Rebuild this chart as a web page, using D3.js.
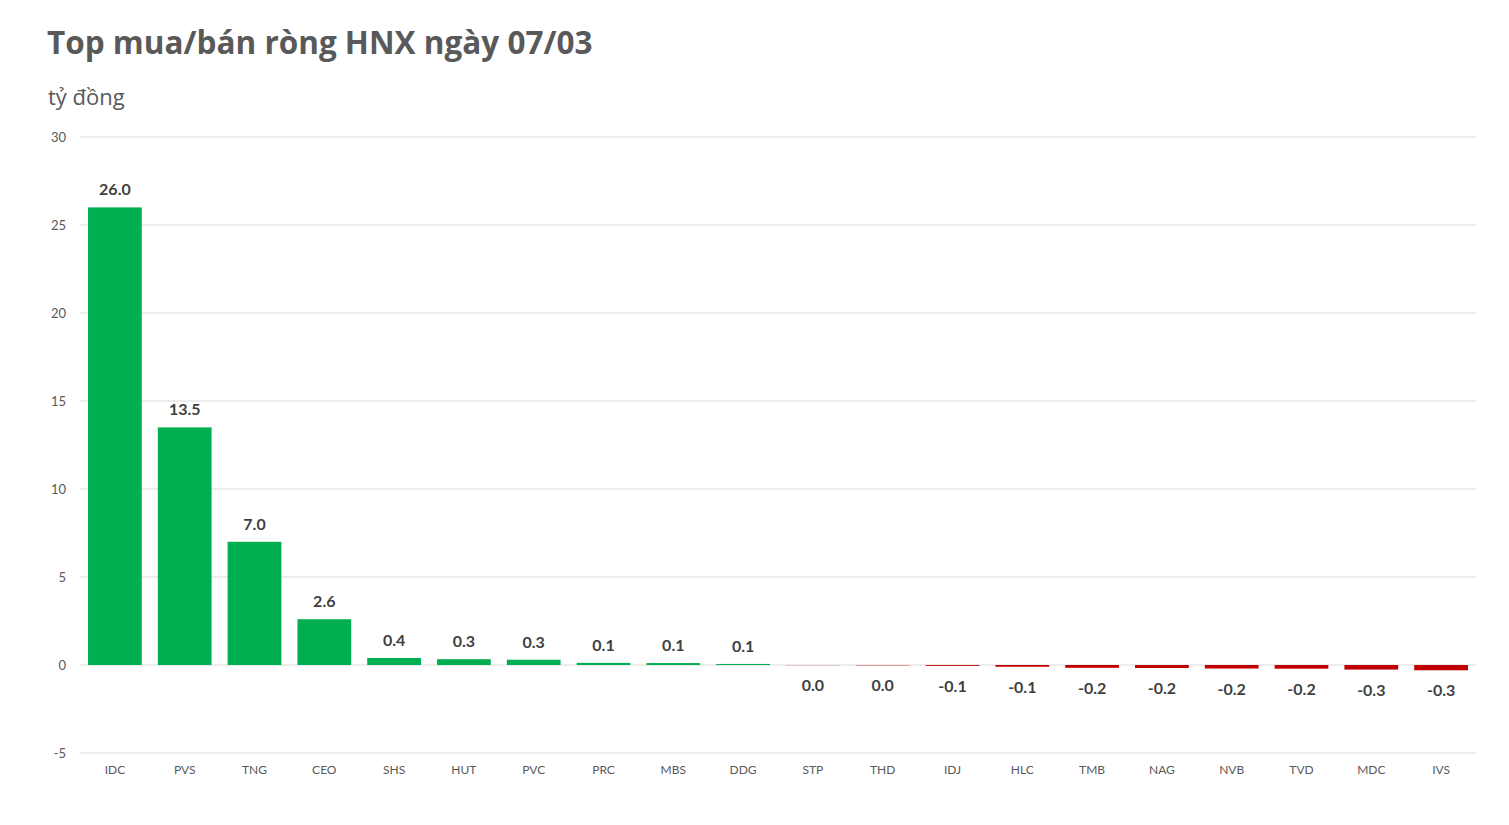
<!DOCTYPE html>
<html>
<head>
<meta charset="utf-8">
<script src="https://cdn.jsdelivr.net/npm/d3@7"></script>
<style>
  body { margin: 0; background: #fff; }
  text { font-family: Lato, "Open Sans", sans-serif; }
</style>
</head>
<body>
<div id="root"></div>
<script>
// Size of the chart
const width = 1509;
const height = 825;
const margin = { top: 137, right: 33, bottom: 72, left: 80 };

// Data
const tickers = ["IDC", "PVS", "TNG", "CEO", "SHS", "HUT", "PVC", "PRC", "MBS", "DDG",
  "STP", "THD", "IDJ", "HLC", "TMB", "NAG", "NVB", "TVD", "MDC", "IVS"];
const values = [26.0, 13.5, 7.0, 2.6, 0.4, 0.33, 0.3, 0.12, 0.11, 0.06,
  -0.01, -0.02, -0.05, -0.1, -0.16, -0.17, -0.2, -0.21, -0.26, -0.3];
const yTicks = [-5, 0, 5, 10, 15, 20, 25, 30];

const data = tickers.map((t, i) => ({ ticker: t, value: values[i] }));

// one decimal, no "-0.0"
const fmt = v => {
  const s = d3.format(".1f")(v).replace("−", "-");
  return s === "-0.0" ? "0.0" : s;
};

const svg = d3
  .select("#root")
  .append("svg")
  .attr("width", width)
  .attr("height", height);

// Title and unit
svg.append("text")
  .attr("x", 47)
  .attr("y", 54)
  .style("font-family", "'Open Sans', sans-serif")
  .style("font-size", "31.5px")
  .style("font-weight", "bold")
  .attr("fill", "#595959")
  .text("Top mua/bán ròng HNX ngày 07/03");

svg.append("text")
  .attr("x", 48)
  .attr("y", 105)
  .style("font-family", "'Open Sans', sans-serif")
  .style("font-size", "22px")
  .attr("fill", "#595959")
  .text("tỷ đồng");

// Scales
const xScale = d3
  .scaleBand()
  .domain(tickers)
  .range([margin.left, width - margin.right])
  .paddingInner(0.23)
  .paddingOuter(0.115);

const yScale = d3
  .scaleLinear()
  .domain([-5, 30])
  .range([height - margin.bottom, margin.top]);

// Gridlines
svg.append("g")
  .selectAll("line")
  .data(yTicks)
  .enter()
  .append("line")
  .attr("x1", margin.left)
  .attr("x2", width - margin.right)
  .attr("y1", d => yScale(d))
  .attr("y2", d => yScale(d))
  .attr("stroke", "#d9d9d9")
  .attr("stroke-width", 1);

// Y axis
const yAxis = d3.axisLeft(yScale).tickValues(yTicks).tickSize(0).tickPadding(14)
  .tickFormat(d => String(d));
svg.append("g")
  .attr("class", "y-axis")
  .attr("transform", "translate(" + margin.left + ",0)")
  .call(yAxis)
  .call(g => g.select(".domain").remove())
  .selectAll("text")
  .attr("font-size", 13)
  .attr("fill", "#595959");

// X axis
const xAxis = d3.axisBottom(xScale).tickSize(0).tickPadding(12);
svg.append("g")
  .attr("class", "x-axis")
  .attr("transform", "translate(0," + (height - margin.bottom) + ")")
  .call(xAxis)
  .call(g => g.select(".domain").remove())
  .selectAll("text")
  .attr("font-size", 12)
  .attr("fill", "#595959");

// Bars
svg.append("g")
  .selectAll("rect")
  .data(data)
  .enter()
  .append("rect")
  .attr("x", d => xScale(d.ticker))
  .attr("width", xScale.bandwidth())
  .attr("y", d => yScale(Math.max(0, d.value)))
  .attr("height", d => Math.abs(yScale(d.value) - yScale(0)))
  .attr("fill", d => (d.value >= 0 ? "#00b050" : "#c00000"));

// Value labels
svg.append("g")
  .selectAll("text")
  .data(data)
  .enter()
  .append("text")
  .attr("x", d => xScale(d.ticker) + xScale.bandwidth() / 2)
  .attr("y", d => (d.value > 0 ? yScale(d.value) - 12 : yScale(Math.min(0, d.value)) + 26))
  .attr("text-anchor", "middle")
  .attr("font-size", 16)
  .attr("font-weight", "bold")
  .attr("fill", "#404040")
  .text(d => fmt(d.value));
</script>
</body>
</html>
